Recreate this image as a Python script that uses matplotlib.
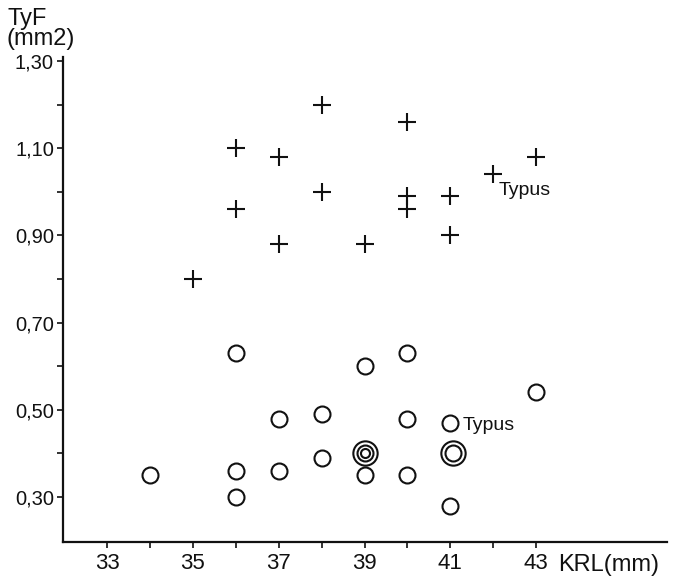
import matplotlib
matplotlib.use('Agg')
import matplotlib.pyplot as plt
import numpy as np

plt.rcParams['font.family'] = ['Liberation Sans', 'DejaVu Sans']

# + : one series
plus_x = [35, 36, 36, 37, 37, 38, 38, 39, 40, 40, 40, 41, 41, 42, 43]
plus_y = [0.80, 1.10, 0.96, 1.08, 0.88, 1.20, 1.00, 0.88, 1.16, 0.99, 0.96, 0.99, 0.90, 1.04, 1.08]

# o : other series, count = number of coinciding specimens
circ_x = [34, 36, 36, 36, 37, 37, 38, 38, 39, 39, 39, 40, 40, 40, 41, 41.05, 41, 43]
circ_y = [0.35, 0.63, 0.36, 0.30, 0.48, 0.36, 0.49, 0.39, 0.60, 0.40, 0.35, 0.63, 0.48, 0.35, 0.47, 0.40, 0.28, 0.54]
circ_n = [1, 1, 1, 1, 1, 1, 1, 1, 1, 3, 1, 1, 1, 1, 1, 2, 1, 1]

typus_plus = (42, 1.04)
typus_circ = (41, 0.47)

xticks = np.arange(33, 44, 1)
xlabels = ['33', '35', '37', '39', '41', '43']
yticks = np.round(np.arange(0.3, 1.31, 0.1), 2)
ylabels = ['0,30', '0,50', '0,70', '0,90', '1,10', '1,30']

fig = plt.figure(figsize=(6.81, 5.76), dpi=100)
ax = fig.add_axes([63/681, 34/576, (667-63)/681, (542-57)/576])

ax.plot(plus_x, plus_y, ls='none', marker='+', ms=12.5, mew=1.5, color='#111111')

cx = np.array(circ_x)
cy = np.array(circ_y)
cn = np.array(circ_n)
ax.plot(cx, cy, ls='none', marker='o', ms=11.5, mfc='none', mec='#111111', mew=1.5)
m2 = cn >= 2
ax.plot(cx[m2], cy[m2], ls='none', marker='o', ms=17.5, mfc='none', mec='#111111', mew=1.5)
m3 = cn >= 3
ax.plot(cx[m3], cy[m3], ls='none', marker='o', ms=6.5, mfc='none', mec='#111111', mew=1.5)

ax.annotate('Typus', typus_plus, xytext=(3.5, -5.5), textcoords='offset points',
            fontsize=14, ha='left', va='top', color='#111111')
ax.annotate('Typus', typus_circ, xytext=(8.5, -5), textcoords='offset points',
            fontsize=14, ha='left', va='baseline', color='#111111')

ax.set_xlim(31.97, 46.05)
ax.set_ylim(0.197, 1.309)
ax.set_xticks(xticks)
xlab_map = dict(zip([33, 35, 37, 39, 41, 43], xlabels))
ax.set_xticklabels([xlab_map.get(int(t), '') for t in xticks])
ax.set_yticks(yticks)
ylab_map = dict(zip([0.3, 0.5, 0.7, 0.9, 1.1, 1.3], ylabels))
ax.set_yticklabels([ylab_map.get(round(t, 2), '') for t in yticks])
ax.tick_params(axis='both', direction='out', length=4, width=1.2, colors='#111111')
ax.tick_params(axis='x', pad=4, labelsize=16)
ax.tick_params(axis='y', pad=2.5, labelsize=14.5)

for s in ['top', 'right']:
    ax.spines[s].set_visible(False)
for s in ['left', 'bottom']:
    ax.spines[s].set_linewidth(1.6)
    ax.spines[s].set_color('#111111')

fig.text(8/681, 1 - 25/576, 'TyF', fontsize=17, color='#111111')
fig.text(6/681, 1 - 45/576, '(mm2)', fontsize=17, color='#111111')
fig.text(558/681, 1 - 571/576, 'KRL(mm)', fontsize=17, color='#111111')

fig.savefig('out.png', dpi=100, facecolor='white')
